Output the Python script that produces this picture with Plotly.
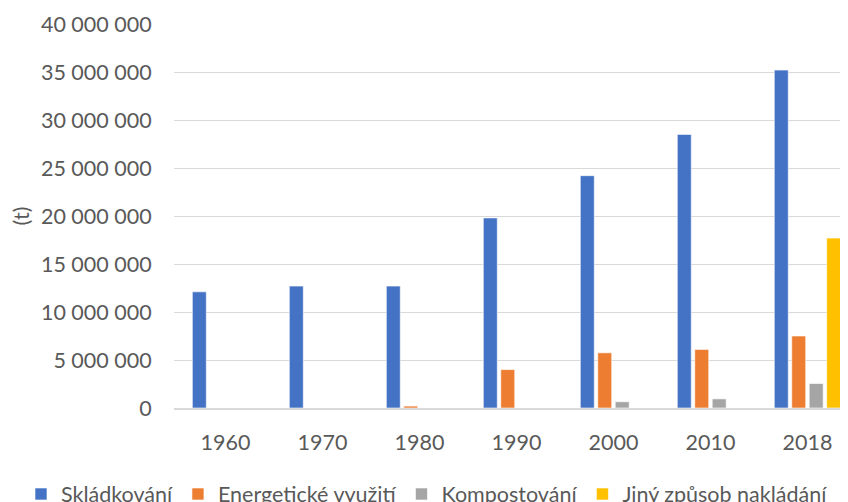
import plotly.graph_objects as go

years = ['1960', '1970', '1980', '1990', '2000', '2010', '2018']
skladkovani = [12_100_000, 12_700_000, 12_700_000, 19_800_000, 24_200_000, 28_500_000, 35_200_000]
energeticke = [0, 0, 200_000, 4_000_000, 5_750_000, 6_100_000, 7_500_000]
kompostovani = [0, 0, 0, 0, 650_000, 950_000, 2_550_000]
jiny_zpusob = [0, 0, 0, 0, 0, 0, 17_700_000]

series = [
    ('Skládkování', skladkovani, '#4472C4'),
    ('Energetické využití', energeticke, '#ED7D31'),
    ('Kompostování', kompostovani, '#A5A5A5'),
    ('Jiný způsob nakládání', jiny_zpusob, '#FFC000'),
]

font_family = 'Lato, "Open Sans", sans-serif'
text_color = '#595959'
font_size = 21.5

fig = go.Figure()
for name, values, color in series:
    fig.add_trace(go.Bar(
        x=years,
        y=values,
        name=name,
        marker=dict(color=color, line=dict(color='white', width=0.6)),
    ))

# page body has an 8px margin, so the figure is 8px smaller each way
fig.update_layout(
    width=840,
    height=494,
    barmode='group',
    bargap=0.28,
    bargroupgap=0.2,
    separators=', ',
    plot_bgcolor='white',
    paper_bgcolor='white',
    font=dict(family=font_family, size=font_size, color=text_color),
    margin=dict(l=166, r=0, t=16, b=94, autoexpand=False),
    legend=dict(
        orientation='h',
        x=-0.2270,
        xanchor='left',
        y=-0.224,
        yanchor='middle',
        font=dict(size=font_size, color=text_color),
        itemwidth=30,
    ),
)

fig.update_yaxes(
    range=[0, 40_000_000],
    dtick=5_000_000,
    tickformat=',d',
    showgrid=True,
    gridcolor='#D9D9D9',
    gridwidth=1,
    zeroline=False,
    ticks='outside',
    ticklen=17,
    tickcolor='rgba(0,0,0,0)',
    title=dict(text='(t)', standoff=12, font=dict(size=font_size, color=text_color)),
)

fig.update_xaxes(
    type='category',
    range=[-0.531, 6.418],
    showline=True,
    linecolor='#D9D9D9',
    linewidth=1.5,
    ticks='outside',
    ticklen=14,
    tickcolor='rgba(0,0,0,0)',
)

fig.write_html("out.html")
